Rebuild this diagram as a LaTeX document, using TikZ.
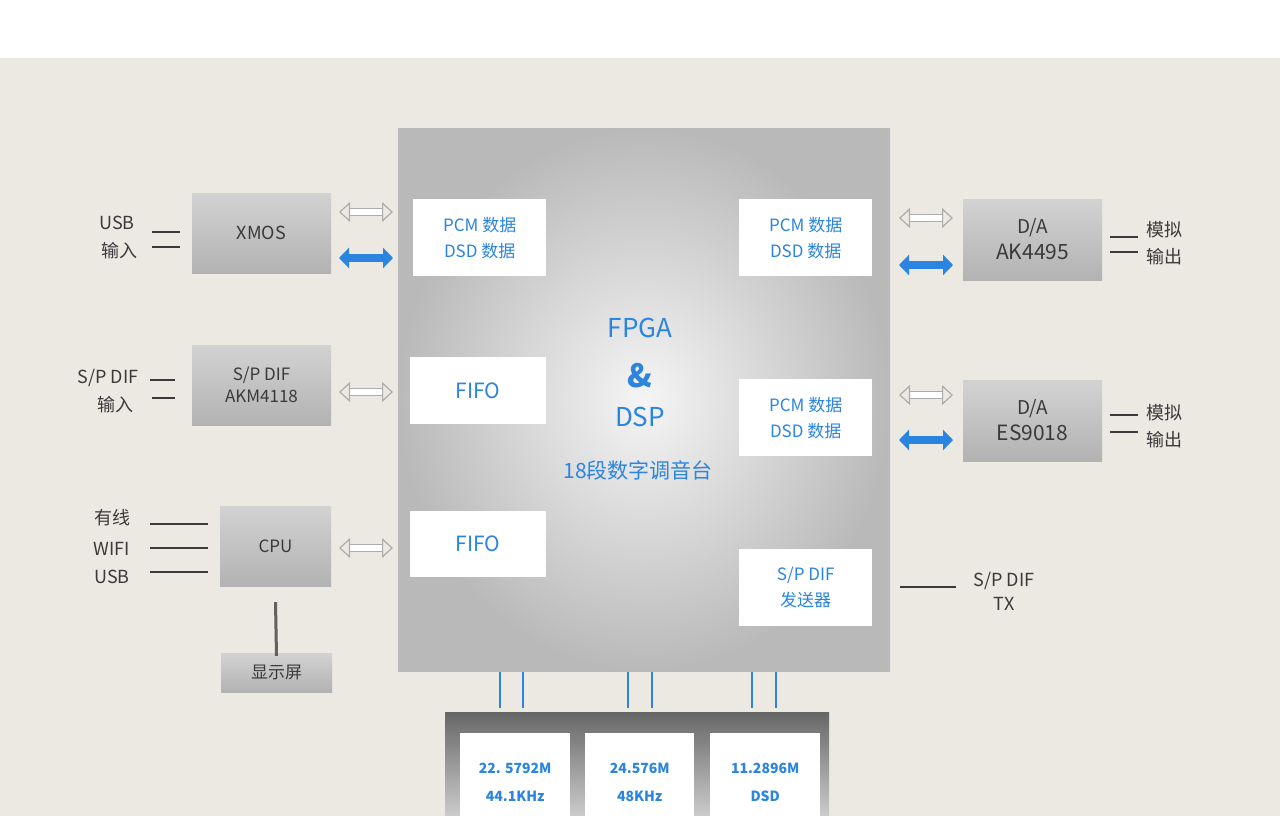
\documentclass[tikz,border=0pt]{standalone}
\usepackage{fontspec}
\setmainfont{Noto Sans CJK SC}
\usetikzlibrary{arrows.meta,shadings}
\definecolor{bl}{HTML}{2A84E0}
\definecolor{tx}{HTML}{3A3A3A}
\definecolor{bg}{HTML}{ECE8E2}
\begin{document}
\begin{tikzpicture}[x=1pt,y=-1pt,
 wb/.style={fill=white,draw=none,text=bl,font=\fontsize{17}{26}\selectfont,align=center,anchor=north west,inner sep=0},
 gb/.style={top color=gray!35,bottom color=gray!60,draw=none,text=tx,font=\fontsize{17}{22}\selectfont,align=center,inner sep=0},
 lb/.style={text=tx,font=\fontsize{18}{20}\selectfont,align=center,inner sep=0},
 ln/.style={draw=tx,line width=1.5pt},
 ga/.style={draw=gray!65,fill=bg,line width=1.2pt,{Triangle[open,length=11pt,width=20pt]}-{Triangle[open,length=11pt,width=20pt]}, double distance=6pt},
 ba/.style={draw=bl,line width=8pt,{Triangle[length=10pt,width=20pt]}-{Triangle[length=10pt,width=20pt]}},
 vl/.style={draw=bl,line width=2.5pt}]
\path[use as bounding box] (0,0) rectangle (1280,816);
\fill[white] (0,0) rectangle (1280,58);
\fill[bg] (0,58) rectangle (1280,816);
% FPGA
\node[inner sep=0,minimum width=492,minimum height=543,inner color=gray!8,outer color=gray!55,anchor=north west] (fpga) at (398,128) {};
\node[text=bl,font=\fontsize{26}{28}\selectfont] (f) at (640,328) {FPGA};
\node[text=bl,font=\fontsize{32}{32}\selectfont\bfseries] (amp) at (640,376) {\&};
\node[text=bl,font=\fontsize{26}{28}\selectfont] (dsp) at (640,417) {DSP};
\node[text=bl,font=\fontsize{21}{23}\selectfont] (eq) at (638,470) {18段数字调音台};
% white boxes
\node[wb,minimum width=133,minimum height=77] (pl) at (413,199) {PCM 数据\\DSD 数据};
\node[wb,minimum width=136,minimum height=67] (f1) at (410,357) {\fontsize{21}{23}\selectfont FIFO};
\node[wb,minimum width=136,minimum height=66] (f2) at (410,511) {\fontsize{21}{23}\selectfont FIFO};
\node[wb,minimum width=133,minimum height=77] (pr1) at (739,199) {PCM 数据\\DSD 数据};
\node[wb,minimum width=133,minimum height=77] (pr2) at (739,379) {PCM 数据\\DSD 数据};
\node[wb,minimum width=133,minimum height=77] (sp) at (739,549) {S/P DIF\\发送器};
% left gray boxes
\node[gb,minimum width=139,minimum height=80,font=\fontsize{18}{22}\selectfont] (xmos) at (261.5,233) {XMOS};
\node[gb,minimum width=139,minimum height=80] (akm) at (261.5,385) {S/P DIF\\AKM4118};
\node[gb,minimum width=111,minimum height=80] (cpu) at (275.5,546) {CPU};
\node[gb,minimum width=111,minimum height=39] (disp) at (276.5,672.5) {显示屏};
\node[gb,minimum width=139,minimum height=81,font=\fontsize{19}{26}\selectfont] (da1) at (1032.5,239.5) {D/A\\{\fontsize{21}{26}\selectfont AK4495}};
\node[gb,minimum width=139,minimum height=81,font=\fontsize{19}{26}\selectfont] (da2) at (1032.5,420.5) {D/A\\{\fontsize{21}{26}\selectfont ES9018}};
% arrows
\coordinate (a1) at (339,212); \coordinate (a2) at (393,212); \draw[ga] (a1)--(a2);
\coordinate (b1) at (339,258); \coordinate (b2) at (393,258); \draw[ba] (b1)--(b2);
\coordinate (c1) at (339,392); \coordinate (c2) at (393,392); \draw[ga] (c1)--(c2);
\coordinate (d1) at (339,548); \coordinate (d2) at (393,548); \draw[ga] (d1)--(d2);
\coordinate (e1) at (899,218); \coordinate (e2) at (953,218); \draw[ga] (e1)--(e2);
\coordinate (g1) at (899,265); \coordinate (g2) at (953,265); \draw[ba] (g1)--(g2);
\coordinate (h1) at (899,395); \coordinate (h2) at (953,395); \draw[ga] (h1)--(h2);
\coordinate (i1) at (899,440); \coordinate (i2) at (953,440); \draw[ba] (i1)--(i2);
% left labels
\node[lb] (usb) at (117,223) {USB}; \node[lb] (in1) at (119,251) {输入};
\draw[ln] (152,232)--(180,232); \draw[ln] (152,247)--(180,247);
\node[lb] (spd) at (108,378) {S/P DIF}; \node[lb] (in2) at (115,405) {输入};
\draw[ln] (150,380)--(175,380); \draw[ln] (152,398)--(175,398);
\node[lb] (yx) at (112,518) {有线}; \node[lb] (wifi) at (112,549) {WIFI}; \node[lb] (usb2) at (112,577) {USB};
\draw[ln] (150,524)--(208,524); \draw[ln] (150,548)--(208,548); \draw[ln] (150,572)--(208,572);
\draw[draw=tx!80,line width=3pt] (cpu.south)++(0,16) -- ([yshift=-3]disp.north);
% right labels
\node[lb] (mn1) at (1164,230) {模拟}; \node[lb] (sc1) at (1164,257) {输出};
\draw[ln] (1110,237)--(1138,237); \draw[ln] (1110,252)--(1138,252);
\node[lb] (mn2) at (1164,413) {模拟}; \node[lb] (sc2) at (1164,440) {输出};
\draw[ln] (1110,415)--(1138,415); \draw[ln] (1110,432)--(1138,432);
\node[lb,align=center,font=\fontsize{18}{24}\selectfont] (sptx) at (1004,591) {S/P DIF\\TX};
\draw[ln] (900,587)--(956,587);
% bottom
\fill[top color=gray!80!black,bottom color=gray!40] (445,712) rectangle (829,816);
\node[wb,minimum width=110,minimum height=83,font=\fontsize{14}{28}\selectfont\bfseries] (k1) at (460,733) {\\[-3pt]22. 5792M\\44.1KHz};
\node[wb,minimum width=109,minimum height=83,font=\fontsize{14}{28}\selectfont\bfseries] (k2) at (585,733) {\\[-3pt]24.576M\\48KHz};
\node[wb,minimum width=110,minimum height=83,font=\fontsize{14}{28}\selectfont\bfseries] (k3) at (710,733) {\\[-3pt]11.2896M\\DSD};
\foreach \x in {500,523,628,652,752,776}{\draw[vl] (\x,672)--(\x,708);}
\end{tikzpicture}
\end{document}
